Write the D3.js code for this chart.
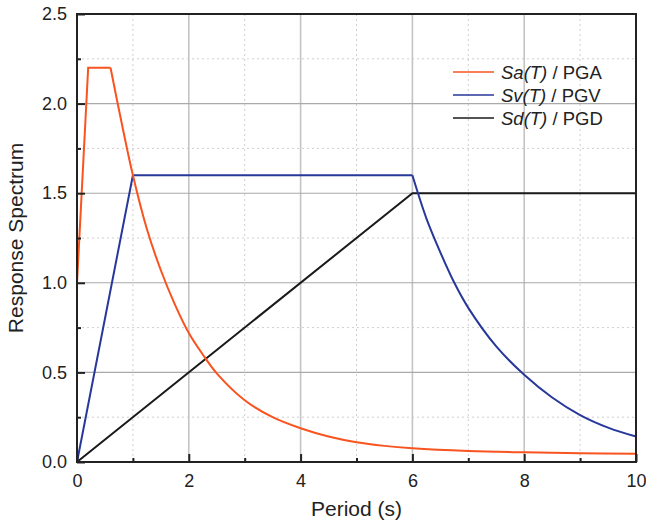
<!DOCTYPE html>
<html>
<head>
<meta charset="utf-8">
<script src="https://cdn.jsdelivr.net/npm/d3@7"></script>
<style>
  body { margin: 0; background: #fff; }
  svg { font-family: "Liberation Sans", Arial, sans-serif; }
</style>
</head>
<body>
<div id="chart"></div>
<script>
// values
var periodSa = [0, 0.2, 0.6, 0.8, 1.0, 1.25, 1.5, 1.75, 2.0, 2.25, 2.5, 3.0, 3.5, 4.0, 4.5, 5.0, 5.5, 6.0, 7.0, 8.0, 9.0, 10.0];
var sa = [1.0, 2.2, 2.2, 1.89, 1.6, 1.3, 1.07, 0.88, 0.72, 0.6, 0.495, 0.345, 0.25, 0.188, 0.142, 0.11, 0.09, 0.077, 0.062, 0.054, 0.049, 0.046];

var periodSv = [0, 1, 6, 6.25, 6.5, 6.75, 7.0, 7.5, 8.0, 8.5, 9.0, 9.5, 10.0];
var sv = [0, 1.6, 1.6, 1.36, 1.17, 1.0, 0.86, 0.645, 0.487, 0.36, 0.262, 0.192, 0.142];

var periodSd = [0, 6, 10];
var sd = [0, 1.5, 1.5];

var xTicks = [0, 2, 4, 6, 8, 10];
var xMinor = [1, 3, 5, 7, 9];
var yTicks = [0, 0.5, 1.0, 1.5, 2.0, 2.5];
var yMinor = [0.25, 0.75, 1.25, 1.75, 2.25];

var legendNames = [["Sa(T)", " / PGA"], ["Sv(T)", " / PGV"], ["Sd(T)", " / PGD"]];
var colors = ["#f9531f", "#27389a", "#1a1a1a"];

var width = 646, height = 524;
var margin = {top: 14, right: 10, bottom: 62, left: 77};
var w = width - margin.left - margin.right;
var h = height - margin.top - margin.bottom;

var svg = d3.select("#chart").append("svg")
  .attr("width", width)
  .attr("height", height);

var g = svg.append("g")
  .attr("transform", "translate(" + margin.left + "," + margin.top + ")");

var x = d3.scaleLinear().domain([0, 10]).range([0, w]);
var y = d3.scaleLinear().domain([0, 2.5]).range([h, 0]);

// grid - minor dotted
g.selectAll("line.vminor")
  .data(xMinor)
  .enter().append("line")
  .attr("x1", function(d) { return x(d); })
  .attr("x2", function(d) { return x(d); })
  .attr("y1", 0).attr("y2", h)
  .attr("stroke", "#cfcfcf")
  .attr("stroke-width", 1)
  .attr("stroke-dasharray", "2,3");
g.selectAll("line.hminor")
  .data(yMinor)
  .enter().append("line")
  .attr("y1", function(d) { return y(d); })
  .attr("y2", function(d) { return y(d); })
  .attr("x1", 0).attr("x2", w)
  .attr("stroke", "#cfcfcf")
  .attr("stroke-width", 1)
  .attr("stroke-dasharray", "2,3");

// grid - major solid
g.selectAll("line.vmajor")
  .data(xTicks.slice(1, -1))
  .enter().append("line")
  .attr("x1", function(d) { return x(d); })
  .attr("x2", function(d) { return x(d); })
  .attr("y1", 0).attr("y2", h)
  .attr("stroke", "#c4c4c4")
  .attr("stroke-width", 1.6);
g.selectAll("line.hmajor")
  .data(yTicks.slice(1, -1))
  .enter().append("line")
  .attr("y1", function(d) { return y(d); })
  .attr("y2", function(d) { return y(d); })
  .attr("x1", 0).attr("x2", w)
  .attr("stroke", "#a9a9a9")
  .attr("stroke-width", 1.1);

// curves
function pts(xs, ys) {
  return xs.map(function(d, i) { return [d, ys[i]]; });
}
var straight = d3.line()
  .x(function(d) { return x(d[0]); })
  .y(function(d) { return y(d[1]); });
var smooth = d3.line()
  .x(function(d) { return x(d[0]); })
  .y(function(d) { return y(d[1]); })
  .curve(d3.curveCatmullRom.alpha(0.5));

var saPts = pts(periodSa, sa);
var svPts = pts(periodSv, sv);
var sdPts = pts(periodSd, sd);

g.append("path").attr("d", straight(sdPts))
  .attr("fill", "none").attr("stroke", colors[2]).attr("stroke-width", 2);
g.append("path").attr("d", straight(svPts.slice(0, 3)) + smooth(svPts.slice(2)))
  .attr("fill", "none").attr("stroke", colors[1]).attr("stroke-width", 2);
g.append("path").attr("d", straight(saPts.slice(0, 3)) + smooth(saPts.slice(2)))
  .attr("fill", "none").attr("stroke", colors[0]).attr("stroke-width", 2);

// frame
g.append("rect")
  .attr("width", w).attr("height", h)
  .attr("fill", "none")
  .attr("stroke", "#222")
  .attr("stroke-width", 2);

// axes
var xAxis = g.append("g")
  .attr("transform", "translate(0," + h + ")")
  .call(d3.axisBottom(x).tickValues(xTicks).tickSizeInner(-8).tickSizeOuter(0).tickPadding(12)
    .tickFormat(d3.format("d")));
var yAxis = g.append("g")
  .call(d3.axisLeft(y).tickValues(yTicks).tickSizeInner(-8).tickSizeOuter(0).tickPadding(10)
    .tickFormat(d3.format(".1f")));
g.append("g")
  .attr("transform", "translate(0," + h + ")")
  .call(d3.axisBottom(x).tickValues(xMinor).tickSizeInner(-4).tickSizeOuter(0).tickFormat(""));
g.append("g")
  .call(d3.axisLeft(y).tickValues(yMinor).tickSizeInner(-4).tickSizeOuter(0).tickFormat(""));

g.selectAll(".domain").remove();
g.selectAll(".tick line").attr("stroke", "#222").attr("stroke-width", 2);
xAxis.selectAll("text").attr("font-size", "18px").attr("fill", "#222")
  .attr("font-family", "'Liberation Sans', Arial, sans-serif");
yAxis.selectAll("text").attr("font-size", "18px").attr("fill", "#222")
  .attr("font-family", "'Liberation Sans', Arial, sans-serif");

// axis titles
svg.append("text")
  .attr("x", margin.left + w / 2)
  .attr("y", 516)
  .attr("text-anchor", "middle")
  .attr("font-size", "21px")
  .attr("fill", "#222")
  .text("Period (s)");
svg.append("text")
  .attr("transform", "translate(23," + (margin.top + h / 2) + ") rotate(-90)")
  .attr("text-anchor", "middle")
  .attr("font-size", "21px")
  .attr("fill", "#222")
  .text("Response Spectrum");

// legend
var legend = svg.append("g").attr("transform", "translate(453,72)");
legendNames.forEach(function(n, i) {
  var row = legend.append("g").attr("transform", "translate(0," + (i * 23) + ")");
  row.append("line")
    .attr("x1", 0).attr("x2", 41)
    .attr("stroke", colors[i]).attr("stroke-width", 1.6);
  var t = row.append("text")
    .attr("x", 48).attr("y", 6.5)
    .attr("font-size", "18.5px")
    .attr("fill", "#222");
  t.append("tspan").attr("font-style", "italic").text(n[0]);
  t.append("tspan").text(n[1]);
});
</script>
</body>
</html>
